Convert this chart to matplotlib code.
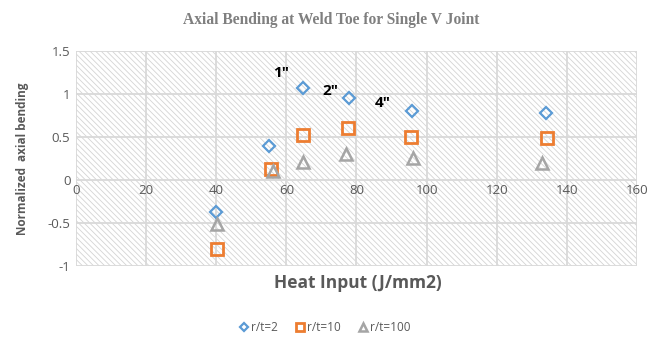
import matplotlib.pyplot as plt
from matplotlib.patches import Rectangle

# heat input (J/mm2) and normalized axial bending
x_r2 = [40, 55, 64.7, 77.9, 95.7, 134]
y_r2 = [-0.376, 0.40, 1.065, 0.95, 0.80, 0.775]
x_r10 = [40.2, 55.5, 64.8, 77.7, 95.5, 134.3]
y_r10 = [-0.80, 0.124, 0.523, 0.608, 0.50, 0.485]
x_r100 = [40.1, 56.1, 64.8, 76.9, 96.2, 132.8]
y_r100 = [-0.515, 0.108, 0.206, 0.302, 0.252, 0.20]

labels = ["r/t=2", "r/t=10", "r/t=100"]
notes = ['1"', '2"', '4"']
note_x = [58.5, 72.5, 87.5]
note_y = [1.25, 1.04, 0.89]

xticks = [0, 20, 40, 60, 80, 100, 120, 140, 160]
yticks = [-1, -0.5, 0, 0.5, 1, 1.5]

plt.rcParams['font.family'] = ['Open Sans', 'DejaVu Sans']
plt.rcParams['hatch.color'] = '#d4d4d4'
plt.rcParams['hatch.linewidth'] = 0.6

fig = plt.figure(figsize=(6.62, 3.41), dpi=100)
ax = fig.add_axes([0.1148, 0.22, 0.8474, 0.6304])

# hatched plot area
ax.add_patch(Rectangle((0, 0), 1, 1, transform=ax.transAxes, facecolor='white',
                       edgecolor='#d4d4d4', hatch='\\\\\\\\\\\\', lw=0, zorder=0))

ax.set_xlim(0, 160)
ax.set_ylim(-1, 1.5)
ax.set_xticks(xticks)
ax.set_yticks(yticks)
ax.set_yticklabels(["-1", "-0.5", "0", "0.5", "1", "1.5"])
ax.grid(True, color='#d9d9d9', lw=1.3, zorder=1)
ax.set_axisbelow(True)
for s in ax.spines.values():
    s.set_visible(False)
ax.spines['bottom'].set_position(('data', 0))
ax.tick_params(length=0, labelsize=9.5, colors='#595959', pad=4)
ax.tick_params(axis='x', pad=3)

colors = ['#5b9bd5', '#ed7d31', '#a5a5a5']
ax.plot(x_r2, y_r2, 'D', ms=6, mfc='none', mec=colors[0], mew=1.6, label=labels[0], zorder=3)
ax.plot(x_r10, y_r10, 's', ms=8.5, mfc='none', mec=colors[1], mew=2, label=labels[1], zorder=3)
ax.plot(x_r100, y_r100, '^', ms=8.5, mfc='none', mec=colors[2], mew=1.8, label=labels[2], zorder=3)

for t, xx, yy in zip(notes, note_x, note_y):
    ax.text(xx, yy, t, fontsize=11, fontweight='bold', color='black', ha='center', va='center', zorder=4)

fig.text(0.5, 0.94, "Axial Bending at Weld Toe for Single V Joint", ha='center', va='center',
         fontsize=11.2, fontweight='bold', color='#7f7f7f', family='Liberation Serif')
fig.text(0.54, 0.17, "Heat Input (J/mm2)", ha='center', va='center',
         fontsize=12.5, fontweight='bold', color='#595959')
fig.text(0.034, 0.535, "Normalized  axial bending", ha='center', va='center', rotation=90,
         fontsize=8.5, fontweight='bold', color='#595959')

fig.legend(loc='center', bbox_to_anchor=(0.49, 0.04), ncol=3, frameon=False, fontsize=8.5,
           labelcolor='#595959', handletextpad=0.1, columnspacing=1.4, markerscale=0.75,
           handlelength=1.0)

fig.savefig('out.png', dpi=100)
